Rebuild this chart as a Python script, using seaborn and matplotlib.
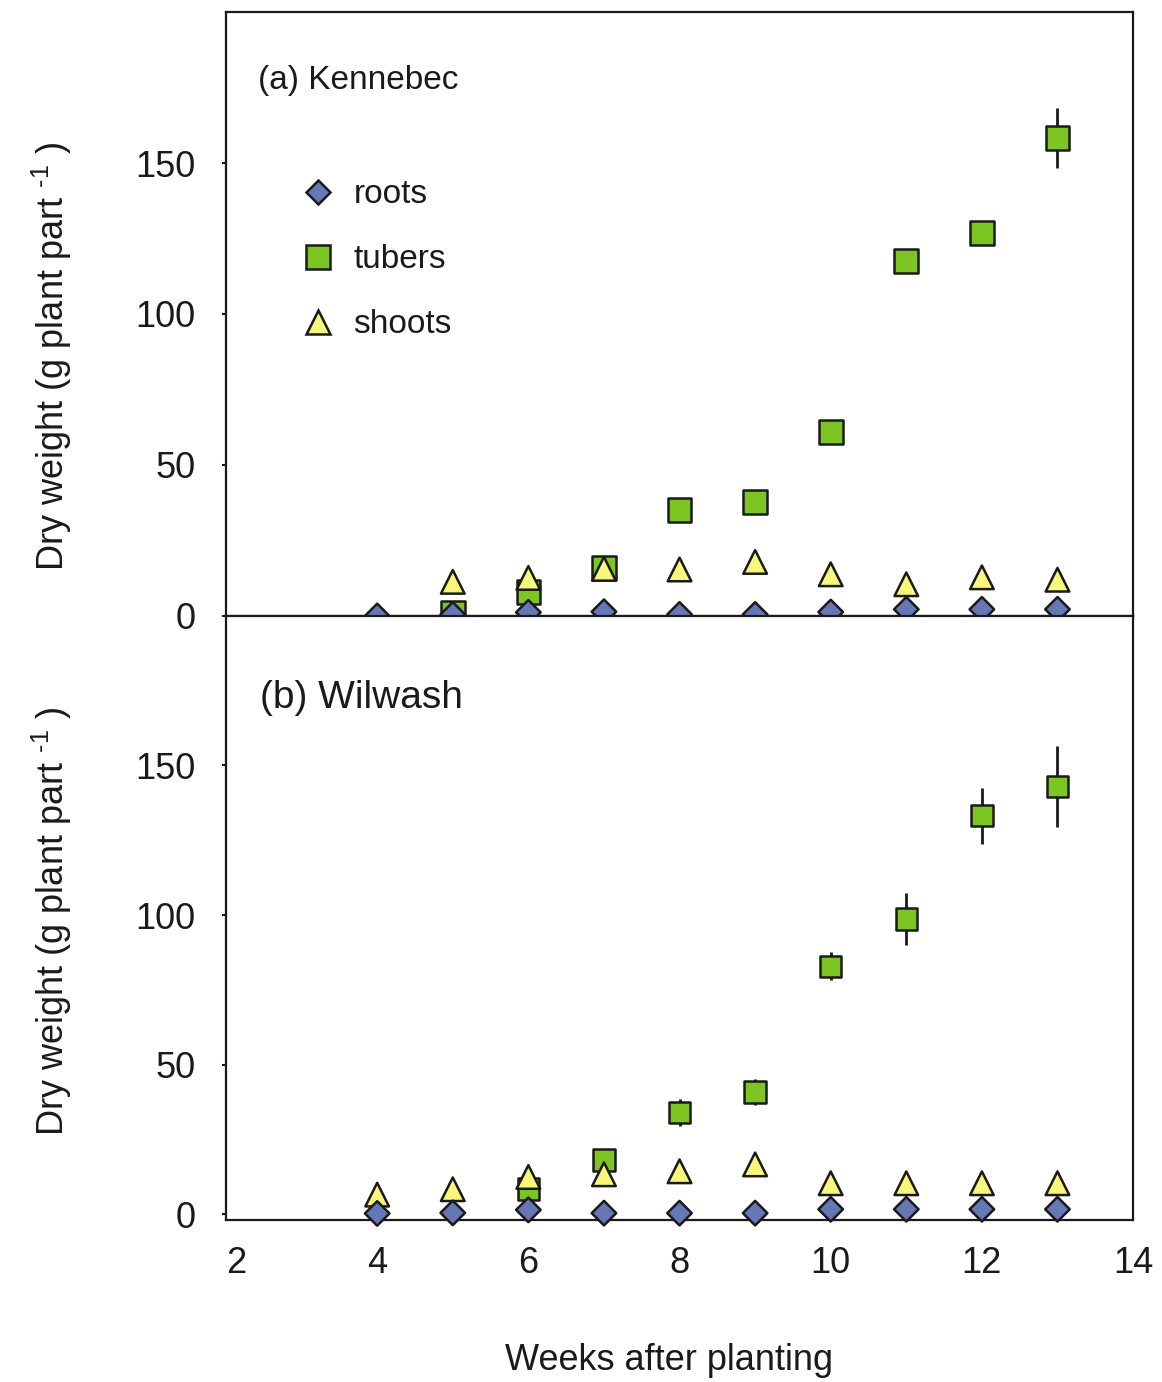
import numpy as np
import pandas as pd
import matplotlib
matplotlib.use("Agg")
import matplotlib.pyplot as plt
from matplotlib.lines import Line2D
import seaborn as sns

nan = np.nan

# Sampling dates
weeks = [4, 5, 6, 7, 8, 9, 10, 11, 12, 13]

# (a) Kennebec — dry weight, g per plant part
kennebec_roots = [0.0, 0.5, 1.2, 1.4, 0.5, 0.5, 1.3, 2.2, 2.2, 2.2]
kennebec_tubers = [nan, 1.0, 8.0, 15.8, 35.1, 37.7, 60.9, 117.5, 126.8, 158.2]
kennebec_tubers_se = [nan, 0.5, 2.0, 2.0, 3.0, 3.0, 3.0, 3.0, 3.5, 10.0]
kennebec_shoots = [nan, 11.3, 12.6, 15.6, 15.4, 17.9, 13.8, 10.5, 12.8, 12.0]

# (b) Wilwash — dry weight, g per plant part
wilwash_roots = [0.2, 0.4, 1.4, 0.3, 0.3, 0.3, 1.6, 1.6, 1.6, 1.6]
wilwash_tubers = [nan, nan, 8.3, 18.0, 34.0, 40.8, 82.8, 98.7, 133.2, 142.9]
wilwash_tubers_se = [nan, nan, 1.0, 2.0, 4.5, 4.5, 4.7, 8.7, 9.3, 13.5]
wilwash_shoots = [6.5, 8.3, 12.4, 13.3, 14.3, 16.6, 10.3, 10.3, 10.3, 10.3]

x_ticks = [2, 4, 6, 8, 10, 12, 14]
y_ticks = [0, 50, 100, 150]

parts = ["tubers", "shoots", "roots"]  # drawing order (roots on top)
legend_order = ["roots", "tubers", "shoots"]
palette = {"roots": "#6677B6", "tubers": "#7DC523", "shoots": "#F8F77A"}
markers = {"roots": "D", "tubers": "s", "shoots": "^"}
EDGE = "#1a1a1a"

sns.set_style("white")
plt.rcParams["font.family"] = ["Liberation Sans", "DejaVu Sans"]
plt.rcParams["mathtext.default"] = "regular"
plt.rcParams["axes.edgecolor"] = EDGE
plt.rcParams["axes.linewidth"] = 1.6
plt.rcParams["text.color"] = EDGE
plt.rcParams["axes.labelcolor"] = EDGE
plt.rcParams["xtick.color"] = EDGE
plt.rcParams["ytick.color"] = EDGE

fig = plt.figure(figsize=(11.62, 13.82), dpi=100)
ax_a = fig.add_axes([0.1945, 0.5543, 0.7806, 0.4370])
ax_b = fig.add_axes([0.1945, 0.1172, 0.7806, 0.4371])

Y_LABEL = "Dry weight (g plant part $^{\u20101}$ )"


def draw_panel(ax, roots, tubers, tubers_se, shoots, sizes, ylim):
    df = pd.concat([
        pd.DataFrame({"week": weeks, "weight": tubers, "part": "tubers"}),
        pd.DataFrame({"week": weeks, "weight": shoots, "part": "shoots"}),
        pd.DataFrame({"week": weeks, "weight": roots, "part": "roots"}),
    ], ignore_index=True).dropna()

    ax.errorbar(weeks, tubers, yerr=tubers_se, fmt="none", ecolor=EDGE,
                elinewidth=2.0, capsize=0, zorder=2)
    sns.scatterplot(data=df, x="week", y="weight", hue="part", style="part",
                    size="part", hue_order=parts, style_order=parts,
                    size_order=parts, palette=palette, markers=markers,
                    sizes=sizes, edgecolor=EDGE, linewidth=1.8, legend=False,
                    ax=ax, zorder=3, clip_on=False)
    ax.set_xlim(2, 14)
    ax.set_ylim(*ylim)
    ax.set_yticks(y_ticks)
    ax.set_yticklabels([str(t) for t in y_ticks])
    ax.tick_params(axis="y", length=3, width=1.5, direction="out",
                   labelsize=26, pad=19, left=True)
    ax.tick_params(axis="x", length=0, labelsize=26, pad=19)
    for side in ["top", "right", "bottom", "left"]:
        ax.spines[side].set_visible(True)
        ax.spines[side].set_linewidth(1.6)
        ax.spines[side].set_color(EDGE)
    ax.set_ylabel(Y_LABEL, fontsize=26)
    ax.set_xlabel("")


sizes_a = {"roots": 12.5 ** 2, "tubers": 17 ** 2, "shoots": 17 ** 2}
sizes_b = {"roots": 12.5 ** 2, "tubers": 15.5 ** 2, "shoots": 17 ** 2}

draw_panel(ax_a, kennebec_roots, kennebec_tubers, kennebec_tubers_se,
           kennebec_shoots, sizes_a, (0, 200))
draw_panel(ax_b, wilwash_roots, wilwash_tubers, wilwash_tubers_se,
           wilwash_shoots, sizes_b, (-2, 200))

ax_a.set_xticks(x_ticks)
ax_a.set_xticklabels([])
ax_b.set_xticks(x_ticks)
ax_b.set_xticklabels([str(t) for t in x_ticks])
ax_b.get_xticklabels()[0].set_horizontalalignment("left")

ax_a.yaxis.set_label_coords(-0.168, 0.43)
ax_b.yaxis.set_label_coords(-0.168, 0.494)

ax_b.set_xlabel("Weeks after planting", fontsize=26)
ax_b.xaxis.set_label_coords(0.488, -0.204)

ax_a.text(0.035, 0.887, "(a) Kennebec", transform=ax_a.transAxes,
          fontsize=24, va="center", ha="left")
ax_b.text(0.037, 0.864, "(b) Wilwash", transform=ax_b.transAxes,
          fontsize=28, va="center", ha="left")

handles = [
    Line2D([], [], linestyle="none", marker=markers[p],
           markersize=np.sqrt(sizes_a[p]), markerfacecolor=palette[p],
           markeredgecolor=EDGE, markeredgewidth=1.8, label=p)
    for p in legend_order
]
ax_a.legend(handles=handles, loc="upper left", bbox_to_anchor=(0.083, 0.723),
            frameon=False, fontsize=24, handlelength=1.0, handletextpad=0.56,
            labelspacing=1.02, borderpad=0, borderaxespad=0)

fig.savefig("out.png", dpi=100)
